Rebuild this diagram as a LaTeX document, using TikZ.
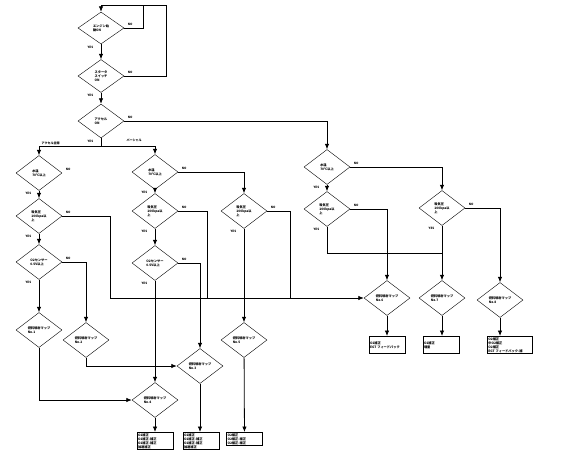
\documentclass[tikz,border=0pt]{standalone}
\usepackage{fontspec}
\newfontfamily\jpfont{Noto Sans CJK JP}
\usetikzlibrary{arrows.meta,positioning,shapes.geometric}
\tikzset{
  decision/.style={
    diamond,
    draw=black,
    thin,
    minimum width=46pt,
    minimum height=35pt,
    inner sep=0pt,
    align=left,
    font=\jpfont\bfseries\fontsize{3.2}{4}\selectfont
  },
  result/.style={
    rectangle,
    draw=black,
    semithick,
    anchor=north,
    text width=34pt,
    inner sep=1pt,
    align=left,
    font=\jpfont\bfseries\fontsize{3.2}{4}\selectfont
  },
  lbl/.style={
    inner sep=0.5pt,
    font=\jpfont\bfseries\fontsize{3}{3.2}\selectfont
  },
  arrow/.style={
    -{Latex[length=5.5pt,width=4.5pt]},
    thick
  },
  line/.style={
    thick
  }
}
\begin{document}
\begin{tikzpicture}[x=1pt,y=-1pt]
\useasboundingbox (0,0) rectangle (564,472);
% start
\node[decision, minimum height=32pt] (dEng) at (101,28) {エンジン始\\動ON};
\node[decision, minimum height=33pt] (dSta) at (101,76) {スタータ\\スイッチ\\ON};
\node[decision, minimum height=34pt] (dAcc) at (101,121) {アクセル\\ON};
% left column
\node[decision] (dWtL) at (39,173) {水温\\70℃以上};
\node[decision] (dPrL) at (39,216) {吸気圧\\100kpa以\\上};
\node[decision] (dO2L) at (39,262) {O2センサー\\0.5V以上};
\node[decision] (dMap1) at (39,330) {燃料噴射マップ\\No.1};
\node[decision] (dMap2) at (86,340) {燃料噴射マップ\\No.2};
% middle column
\node[decision] (dWtM) at (155,172) {水温\\70℃以上};
\node[decision] (dPrM) at (155,211) {吸気圧\\100kpa以\\上};
\node[decision] (dO2M) at (155,263) {O2センサー\\0.5V以上};
\node[decision] (dPrM2) at (244,211) {吸気圧\\100kpa以\\上};
\node[decision] (dMap3) at (200,366) {燃料噴射マップ\\No.3};
\node[decision] (dMap4) at (155,400) {燃料噴射マップ\\No.4};
\node[decision] (dMap5) at (244,340) {燃料噴射マップ\\No.5};
% right group
\node[decision] (dWtR) at (327,167) {水温\\70℃以上};
\node[decision] (dPrR1) at (327,209) {吸気圧\\100kpa以\\上};
\node[decision] (dPrR2) at (442,208) {吸気圧\\100kpa以\\上};
\node[decision] (dMap6) at (387,298) {燃料噴射マップ\\No.6};
\node[decision] (dMap7) at (442,298) {燃料噴射マップ\\No.7};
\node[decision] (dMap8) at (500,300) {燃料噴射マップ\\No.8};
% results
\node[result] (bx1) at (155,432) {O2補正\\O2補正-補正\\O2補正-補正\\加速補正};
\node[result] (bx2) at (201,432) {O2補正\\O2補正-補正\\O2補正-補正\\加速補正};
\node[result] (bx3) at (244.5,432) {O2補正\\O2補正-補正\\O2補正-補正};
\node[result, minimum height=17pt] (bx4) at (387,336) {O2補正\\EGT フィードバック};
\node[result, minimum height=17pt] (bx5) at (441,336) {O2補正\\増量};
\node[result, anchor=north west, text width=43pt] (bx6) at (487,336) {O2補正\\中O2補正\\O2補正\\EGT フィードバック-補};
% branch labels
\node[lbl, anchor=south west] (lFull) at (41,145) {アクセル全開};
\node[lbl, anchor=south west] (lPart) at (126,143) {パーシャル};
\foreach \d in {dEng,dSta,dAcc,dWtL,dPrL,dO2L,dWtM,dPrM,dO2M,dPrM2,dWtR,dPrR1,dPrR2}{
  \node[lbl, anchor=south west] (\d-no) at ([xshift=3pt,yshift=2pt]\d.east) {NO};
  \node[lbl, anchor=north east] (\d-yes) at ([xshift=-7pt,yshift=-1pt]\d.south) {YES};
}
% bend points
\coordinate (loopA) at (143,5);
\coordinate (loopB) at (166,5);
\coordinate (split) at (101,146);
\coordinate (busL) at (110,298);
\coordinate (busM) at (207,298);
\coordinate (busR) at (290,298);
\coordinate (joinR) at (442,253);
% connectors
\draw[arrow] (dEng) -- (dSta);
\draw[arrow] (dSta) -- (dAcc);
\draw[line] (dEng.east) -| (loopA);
\draw[arrow] (dSta.east) -| (loopB) -| (dEng.north);
\draw[arrow] (dAcc.east) -| (dWtR.north);
\draw[line] (dAcc.south) -- (split);
\draw[arrow] (split) -| (dWtL.north);
\draw[arrow] (split) -| (dWtM.north);
\draw[arrow] (dWtL) -- (dPrL);
\draw[arrow] (dPrL) -- (dO2L);
\draw[arrow] (dO2L) -- (dMap1);
\draw[arrow] (dO2L.east) -| (dMap2.north);
\draw[arrow] (dPrL.east) -| (busL) -- (dMap6.west);
\draw[arrow] (dMap1.south) |- (dMap4.west);
\draw[arrow] (dMap2.south) |- (dMap3.west);
\draw[arrow] (dWtM) -- (dPrM);
\draw[arrow] (dPrM) -- (dO2M);
\draw[arrow] (dO2M) -- (dMap4);
\draw[arrow] (dWtM.east) -| (dPrM2.north);
\draw[line] (dPrM.east) -| (busM);
\draw[arrow] (dO2M.east) -| (dMap3.north);
\draw[arrow] (dPrM2) -- (dMap5);
\draw[line] (dPrM2.east) -| (busR);
\draw[arrow] (dWtR) -- (dPrR1);
\draw[arrow] (dWtR.east) -| (dPrR2.north);
\draw[arrow] (dPrR1.east) -| (dMap6.north);
\draw[arrow] (dPrR2.east) -| (dMap8.north);
\draw[arrow] (dPrR2) -- (dMap7);
\draw[line] (dPrR1.south) |- (joinR);
\draw[arrow] (dMap4) -- (bx1);
\draw[arrow] (dMap3.south) -- (dMap3.south |- bx2.north);
\draw[arrow] (dMap5) -- (bx3);
\draw[arrow] (dMap6) -- (bx4);
\draw[arrow] (dMap7.south) -- (dMap7.south |- bx5.north);
\draw[arrow] (dMap8.south) -- (dMap8.south |- bx6.north);
\end{tikzpicture}
\end{document}
